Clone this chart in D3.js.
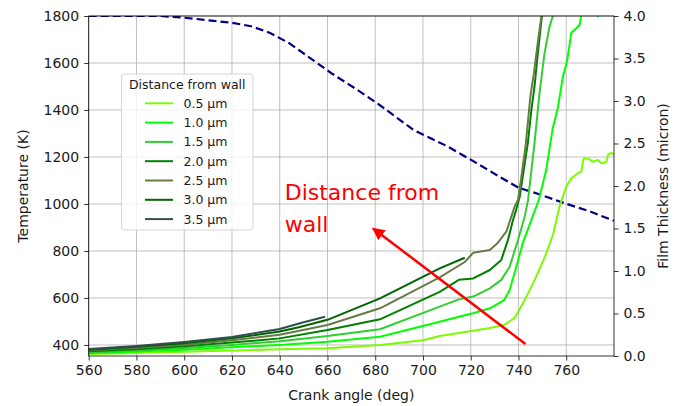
<!DOCTYPE html>
<html>
<head>
<meta charset="utf-8">
<script src="https://cdn.jsdelivr.net/npm/d3@7"></script>
<style>
  html, body { margin: 0; padding: 0; background: #fff; }
  svg { display: block; font-family: "DejaVu Sans", sans-serif; }
  .grid line { stroke: #b0b0b0; stroke-width: 0.8; }
  .axis path, .axis line { stroke: #000; stroke-width: 0.8; }
  .axis text { font-size: 14px; fill: #1a1a1a; font-family: "DejaVu Sans", sans-serif; }
</style>
</head>
<body>
<svg id="chart" width="680" height="406"></svg>
<script>
// crank angle (deg) and film thickness (micron), right axis
const filmAngle = [560, 590, 600, 610, 620, 628, 636, 644, 652, 662, 672, 682, 696, 710, 720, 732, 740, 749, 759, 770, 780];
const filmThickness = [4.0, 4.0, 3.98, 3.95, 3.92, 3.88, 3.8, 3.68, 3.52, 3.32, 3.14, 2.95, 2.66, 2.47, 2.31, 2.11, 1.98, 1.9, 1.8, 1.7, 1.59];

// temperature (K) vs crank angle for each distance from wall
const angle05 = [560, 580, 600, 620, 640, 660, 682, 700, 707, 715, 728, 734, 738.4, 742.6, 746.8, 751, 754.5, 757.2, 760, 762.1, 764.9, 766.3, 767.3, 769.1, 771.2, 773.3, 774.7, 776.8, 777.5, 778.8, 780];
const temp05 = [362, 366, 371, 376, 382, 386, 400, 420, 438, 451, 472, 485, 515, 591, 677, 774, 870, 990, 1074, 1109, 1131, 1137, 1194, 1194, 1180, 1187, 1173, 1180, 1209, 1218, 1210];

const angle10 = [560, 580, 600, 620, 640, 660, 682, 707, 715, 721, 728, 734, 736.3, 739.1, 741.8, 745.4, 748.5, 751.6, 754.3, 756.5, 758.6, 760.3, 761.4, 762.1, 764.2, 765.6, 766.3, 767, 772.5, 773.3, 774, 780];
const temp10 = [365, 372, 380, 390, 400, 414, 435, 499, 520, 535, 556, 591, 634, 733, 833, 932, 1017, 1145, 1320, 1410, 1542, 1606, 1677, 1728, 1748, 1762, 1805, 1850, 1850, 1798, 1850, 1870];

const angle15 = [560, 580, 600, 620, 640, 660, 682, 707, 715, 721, 728, 732.8, 736.3, 739.8, 742.6, 744, 746.7, 748.8, 750.9, 753, 754.4, 756];
const temp15 = [368, 376, 387, 400, 416, 438, 467, 563, 594, 606, 641, 677, 733, 847, 946, 1017, 1258, 1471, 1641, 1755, 1800, 1900];

const angle20 = [560, 580, 600, 620, 640, 660, 682, 707, 715, 721, 728, 732.8, 735.6, 737.7, 739, 740.5, 742, 743.9, 745.4, 746.7, 748.1, 749.8, 751];
const temp20 = [373, 382, 394, 410, 428, 464, 509, 626, 677, 683, 719, 762, 847, 932, 974, 1030, 1130, 1258, 1400, 1499, 1641, 1800, 1900];

const angle25 = [560, 580, 600, 620, 640, 660, 682, 707, 717.5, 721, 728, 731.3, 734.9, 737, 738.4, 739.8, 741, 743, 745, 746.5, 748, 749.6, 751];
const temp25 = [377, 388, 401, 420, 443, 485, 556, 688, 753, 792, 804, 834, 882, 946, 989, 1017, 1100, 1250, 1460, 1560, 1680, 1800, 1900];

const angle30 = [560, 580, 600, 620, 640, 648, 660, 682, 707, 717.5];
const temp30 = [380, 392, 407, 428, 457, 475, 507, 598, 726, 771];

const angle35 = [560, 580, 600, 620, 640, 650, 659];
const temp35 = [383, 396, 413, 434, 468, 497, 520];

const distanceLabels = ["0.5 μm", "1.0 μm", "1.5 μm", "2.0 μm", "2.5 μm", "3.0 μm", "3.5 μm"];
const distanceColors = ["#7cfc00", "#00ff00", "#32cd32", "#008000", "#667c44", "#006400", "#2f4f4f"];

const xTicks = [560, 580, 600, 620, 640, 660, 680, 700, 720, 740, 760];
const tempTicks = [400, 600, 800, 1000, 1200, 1400, 1600, 1800];
const filmTicks = [0, 0.5, 1.0, 1.5, 2.0, 2.5, 3.0, 3.5, 4.0];

// annotation, data coordinates
const arrowFrom = [742.9, 404];
const arrowTo = [679.1, 896];
const noteAt = [642.1, 1017];
const noteLines = ["Distance from", "wall"];

const series = [
  [angle05, temp05], [angle10, temp10], [angle15, temp15], [angle20, temp20],
  [angle25, temp25], [angle30, temp30], [angle35, temp35]
].map((d, i) => ({
  label: distanceLabels[i],
  color: distanceColors[i],
  points: d[0].map((a, j) => [a, d[1][j]])
}));

const margin = { left: 88.7, right: 614, top: 16, bottom: 356 };
const svg = d3.select("#chart");

const x = d3.scaleLinear().domain([560, 780]).range([margin.left, margin.right]);
const yT = d3.scaleLinear().domain([353, 1800]).range([margin.bottom, margin.top]);
const yF = d3.scaleLinear().domain([0, 4]).range([margin.bottom, margin.top]);

svg.append("defs").append("clipPath").attr("id", "plot-clip")
  .append("rect")
  .attr("x", margin.left).attr("y", margin.top)
  .attr("width", margin.right - margin.left).attr("height", margin.bottom - margin.top);

// grid
const grid = svg.append("g").attr("class", "grid");
grid.selectAll("line.v").data(xTicks).join("line")
  .attr("class", "v")
  .attr("x1", (d) => x(d)).attr("x2", (d) => x(d))
  .attr("y1", margin.top).attr("y2", margin.bottom);
grid.selectAll("line.h").data(tempTicks).join("line")
  .attr("class", "h")
  .attr("x1", margin.left).attr("x2", margin.right)
  .attr("y1", (d) => yT(d)).attr("y2", (d) => yT(d));

const plot = svg.append("g").attr("clip-path", "url(#plot-clip)");

// film thickness first, temperatures drawn on top
plot.append("path")
  .datum(filmAngle.map((a, i) => [a, filmThickness[i]]))
  .attr("fill", "none")
  .attr("stroke", "#000080")
  .attr("stroke-width", 2.2)
  .attr("stroke-dasharray", "8,4")
  .attr("d", d3.line().x((d) => x(d[0])).y((d) => yF(d[1])));

const tempLine = d3.line().x((d) => x(d[0])).y((d) => yT(d[1]));
plot.selectAll("path.temp").data(series).join("path")
  .attr("class", "temp")
  .attr("fill", "none")
  .attr("stroke", (d) => d.color)
  .attr("stroke-width", 2)
  .attr("stroke-linejoin", "round")
  .attr("d", (d) => tempLine(d.points));

// frame
svg.append("rect")
  .attr("x", margin.left).attr("y", margin.top)
  .attr("width", margin.right - margin.left).attr("height", margin.bottom - margin.top)
  .attr("fill", "none").attr("stroke", "#000").attr("stroke-width", 0.8);

// axes
svg.append("g").attr("class", "axis")
  .attr("transform", `translate(0,${margin.bottom})`)
  .call(d3.axisBottom(x).tickValues(xTicks).tickFormat(d3.format("d")).tickSize(4.5).tickPadding(5))
  .call((g) => g.select(".domain").remove());

svg.append("g").attr("class", "axis")
  .attr("transform", `translate(${margin.left},0)`)
  .call(d3.axisLeft(yT).tickValues(tempTicks).tickFormat(d3.format("d")).tickSize(4.5).tickPadding(5))
  .call((g) => g.select(".domain").remove());

svg.append("g").attr("class", "axis")
  .attr("transform", `translate(${margin.right},0)`)
  .call(d3.axisRight(yF).tickValues(filmTicks).tickFormat(d3.format(".1f")).tickSize(4.5).tickPadding(5))
  .call((g) => g.select(".domain").remove());

// axis labels
svg.append("text")
  .attr("x", (margin.left + margin.right) / 2).attr("y", 400)
  .attr("text-anchor", "middle").attr("font-size", 14).attr("fill", "#1a1a1a")
  .text("Crank angle (deg)");
svg.append("text")
  .attr("transform", `translate(28,${(margin.top + margin.bottom) / 2}) rotate(-90)`)
  .attr("text-anchor", "middle").attr("font-size", 14).attr("fill", "#1a1a1a")
  .text("Temperature (K)");
svg.append("text")
  .attr("transform", `translate(668,${(margin.top + margin.bottom) / 2}) rotate(-90)`)
  .attr("text-anchor", "middle").attr("font-size", 14).attr("fill", "#1a1a1a")
  .text("Film Thickness (micron)");

// legend
const legend = svg.append("g").attr("transform", "translate(121.5,74)");
legend.append("rect")
  .attr("width", 131.5).attr("height", 156).attr("rx", 3)
  .attr("fill", "#fff").attr("fill-opacity", 0.8)
  .attr("stroke", "#cccccc").attr("stroke-width", 0.8);
legend.append("text")
  .attr("x", 65.75).attr("y", 15).attr("text-anchor", "middle")
  .attr("font-size", 12.5).attr("fill", "#1a1a1a")
  .text("Distance from wall");
const rows = legend.selectAll("g.row").data(series).join("g")
  .attr("class", "row")
  .attr("transform", (d, i) => `translate(0,${29.3 + i * 19.3})`);
rows.append("line")
  .attr("x1", 23.5).attr("x2", 51.5)
  .attr("stroke", (d) => d.color).attr("stroke-width", 2);
rows.append("text")
  .attr("x", 62).attr("y", 4.5)
  .attr("font-size", 12.5).attr("fill", "#1a1a1a")
  .text((d) => d.label);

// annotation arrow
svg.append("defs").append("marker")
  .attr("id", "arrowhead")
  .attr("viewBox", "0 0 10 10").attr("refX", 9).attr("refY", 5)
  .attr("markerWidth", 5).attr("markerHeight", 5).attr("orient", "auto")
  .append("path").attr("d", "M0,0 L10,5 L0,10 Z").attr("fill", "red");
svg.append("line")
  .attr("x1", x(arrowFrom[0])).attr("y1", yT(arrowFrom[1]))
  .attr("x2", x(arrowTo[0])).attr("y2", yT(arrowTo[1]))
  .attr("stroke", "red").attr("stroke-width", 2.5)
  .attr("marker-end", "url(#arrowhead)");
svg.append("g").selectAll("text").data(noteLines).join("text")
  .attr("x", x(noteAt[0]))
  .attr("y", (d, i) => yT(noteAt[1]) + i * 32)
  .attr("font-size", 22).attr("fill", "red")
  .text((d) => d);
</script>
</body>
</html>
